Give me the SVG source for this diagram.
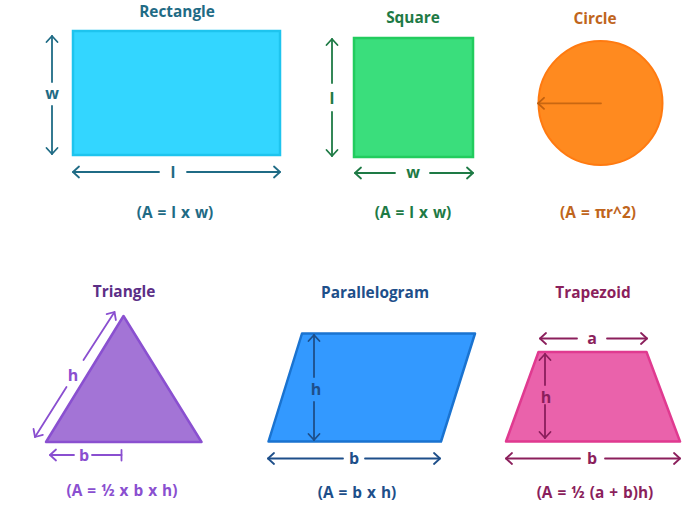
<svg xmlns="http://www.w3.org/2000/svg" width="699" height="507" viewBox="0 0 699 507">
<style>
text{font-family:"Open Sans","Liberation Sans",sans-serif;font-weight:700;text-anchor:middle;dominant-baseline:central}
.t{font-size:15.4px}
.f{font-size:15.4px;word-spacing:1px}
.lb{font-size:16px}
.dim{fill:none;stroke-width:1.8;stroke-linecap:round}
</style>
<defs>
<marker id="mTeal" viewBox="-8 -7 10 14" refX="0" refY="0" markerWidth="10" markerHeight="14" markerUnits="userSpaceOnUse" orient="auto"><path d="M-6,-5.5 L0,0 L-6,5.5" fill="none" stroke="#1f6b85" stroke-width="1.8" stroke-linecap="round" stroke-linejoin="round"/></marker>
<marker id="mGreen" viewBox="-8 -7 10 14" refX="0" refY="0" markerWidth="10" markerHeight="14" markerUnits="userSpaceOnUse" orient="auto"><path d="M-6,-5.5 L0,0 L-6,5.5" fill="none" stroke="#1e7a45" stroke-width="1.8" stroke-linecap="round" stroke-linejoin="round"/></marker>
<marker id="mOrange" viewBox="-8 -7 10 14" refX="0" refY="0" markerWidth="10" markerHeight="14" markerUnits="userSpaceOnUse" orient="auto"><path d="M-6,-5.5 L0,0 L-6,5.5" fill="none" stroke="#c0600f" stroke-width="1.8" stroke-linecap="round" stroke-linejoin="round"/></marker>
<marker id="mPurple" viewBox="-8 -7 10 14" refX="0" refY="0" markerWidth="10" markerHeight="14" markerUnits="userSpaceOnUse" orient="auto"><path d="M-6,-5.5 L0,0 L-6,5.5" fill="none" stroke="#8a4fd0" stroke-width="1.8" stroke-linecap="round" stroke-linejoin="round"/></marker>
<marker id="mBlue" viewBox="-8 -7 10 14" refX="0" refY="0" markerWidth="10" markerHeight="14" markerUnits="userSpaceOnUse" orient="auto"><path d="M-6,-5.5 L0,0 L-6,5.5" fill="none" stroke="#1e4f8a" stroke-width="1.8" stroke-linecap="round" stroke-linejoin="round"/></marker>
<marker id="mPink" viewBox="-8 -7 10 14" refX="0" refY="0" markerWidth="10" markerHeight="14" markerUnits="userSpaceOnUse" orient="auto"><path d="M-6,-5.5 L0,0 L-6,5.5" fill="none" stroke="#8b1f5c" stroke-width="1.8" stroke-linecap="round" stroke-linejoin="round"/></marker>
</defs>
<rect width="699" height="507" fill="#ffffff"/>

<g id="rectangle">
<text class="t" x="177" y="11" fill="#1f6b85">Rectangle</text>
<rect x="73" y="31" width="207" height="124" fill="#33d6ff" stroke="#1ec4ee" stroke-width="2.5"/>
<text class="lb" x="52" y="93" fill="#1f6b85">w</text>
<text class="lb" x="173" y="172" fill="#1f6b85">l</text>
<text class="f" x="175" y="212" fill="#1f6b85">(A = l x w)</text>
</g>

<g id="square">
<text class="t" x="413" y="17" fill="#1e7a45">Square</text>
<rect x="354" y="38" width="119" height="119" fill="#3ade7c" stroke="#22cc5e" stroke-width="2.5"/>
<text class="lb" x="332" y="98" fill="#1e7a45">l</text>
<text class="lb" x="413" y="172" fill="#1e7a45">w</text>
<text class="f" x="413" y="212" fill="#1e7a45">(A = l x w)</text>
</g>

<g id="circle">
<text class="t" x="595" y="18" fill="#c0651c">Circle</text>
<circle cx="600.5" cy="103" r="62" fill="#ff8a1f" stroke="#ff7a10" stroke-width="2"/>
<text class="f" x="598" y="212" fill="#c0651c">(A = πr^2)</text>
</g>

<g id="triangle">
<text class="t" x="124" y="291" fill="#5b2e86">Triangle</text>
<polygon points="123.5,316 46,442 201.5,442" fill="#a374d6" stroke="#8a50d0" stroke-width="2.5" stroke-linejoin="round"/>
<text class="lb" x="73" y="375" fill="#8a4fd0">h</text>
<text class="lb" x="84" y="455" fill="#8a4fd0">b</text>
<text class="f" x="122" y="490" fill="#8a4fd0">(A = ½ x b x h)</text>
</g>

<g id="parallelogram">
<text class="t" x="375" y="292" fill="#1e4f8a">Parallelogram</text>
<polygon points="302,333.5 475,333.5 441,441.5 268.5,441.5" fill="#3399ff" stroke="#1a73d0" stroke-width="2.5" stroke-linejoin="round"/>
<text class="lb" x="316" y="389" fill="#1e4f8a">h</text>
<text class="lb" x="354" y="458" fill="#1e4f8a">b</text>
<text class="f" x="357" y="492" fill="#1e4f8a">(A = b x h)</text>
</g>

<g id="trapezoid">
<text class="t" x="593" y="292" fill="#8b1f5c">Trapezoid</text>
<polygon points="538.5,352 646.5,352 680,441.5 506,441.5" fill="#ea62ab" stroke="#e03a90" stroke-width="2.5" stroke-linejoin="round"/>
<text class="lb" x="592" y="338" fill="#8b1f5c">a</text>
<text class="lb" x="546" y="397" fill="#8b1f5c">h</text>
<text class="lb" x="592" y="458" fill="#8b1f5c">b</text>
<text class="f" x="595" y="492" fill="#8b1f5c">(A = ½ (a + b)h)</text>
</g>

<g id="connectors">
<g stroke="#1f6b85" class="dim">
<line x1="52" y1="82" x2="52" y2="36" marker-end="url(#mTeal)"/>
<line x1="52" y1="106" x2="52" y2="154" marker-end="url(#mTeal)"/>
<line x1="159" y1="172" x2="73" y2="172" marker-end="url(#mTeal)"/>
<line x1="187" y1="172" x2="280" y2="172" marker-end="url(#mTeal)"/>
</g>
<g stroke="#1e7a45" class="dim">
<line x1="332" y1="83" x2="332" y2="39" marker-end="url(#mGreen)"/>
<line x1="332" y1="112" x2="332" y2="156" marker-end="url(#mGreen)"/>
<line x1="395" y1="173" x2="355" y2="173" marker-end="url(#mGreen)"/>
<line x1="430" y1="173" x2="473" y2="173" marker-end="url(#mGreen)"/>
</g>
<g stroke="#c0600f" class="dim" stroke-opacity="0.85">
<line x1="601" y1="103.3" x2="538" y2="103.3" marker-end="url(#mOrange)"/>
</g>
<g stroke="#8a4fd0" class="dim">
<line x1="83.5" y1="360" x2="114.5" y2="312" marker-end="url(#mPurple)"/>
<line x1="66.5" y1="387" x2="35" y2="437" marker-end="url(#mPurple)"/>
<line x1="74" y1="455" x2="50" y2="455" marker-end="url(#mPurple)"/>
<line x1="92" y1="455" x2="121.5" y2="455"/>
<line x1="121.5" y1="450" x2="121.5" y2="460.5"/>
</g>
<g stroke="#1e4f8a" class="dim">
<line x1="314" y1="377" x2="314" y2="335" marker-end="url(#mBlue)"/>
<line x1="314" y1="402" x2="314" y2="440" marker-end="url(#mBlue)"/>
<line x1="343" y1="458.5" x2="268" y2="458.5" marker-end="url(#mBlue)"/>
<line x1="365" y1="458.5" x2="440" y2="458.5" marker-end="url(#mBlue)"/>
</g>
<g stroke="#8b1f5c" class="dim">
<line x1="577" y1="338.5" x2="540" y2="338.5" marker-end="url(#mPink)"/>
<line x1="607" y1="338.5" x2="647" y2="338.5" marker-end="url(#mPink)"/>
<line x1="545" y1="385" x2="545" y2="354" marker-end="url(#mPink)"/>
<line x1="545" y1="405" x2="545" y2="438" marker-end="url(#mPink)"/>
<line x1="580" y1="458.5" x2="506" y2="458.5" marker-end="url(#mPink)"/>
<line x1="605" y1="458.5" x2="680" y2="458.5" marker-end="url(#mPink)"/>
</g>
</g>
</svg>
